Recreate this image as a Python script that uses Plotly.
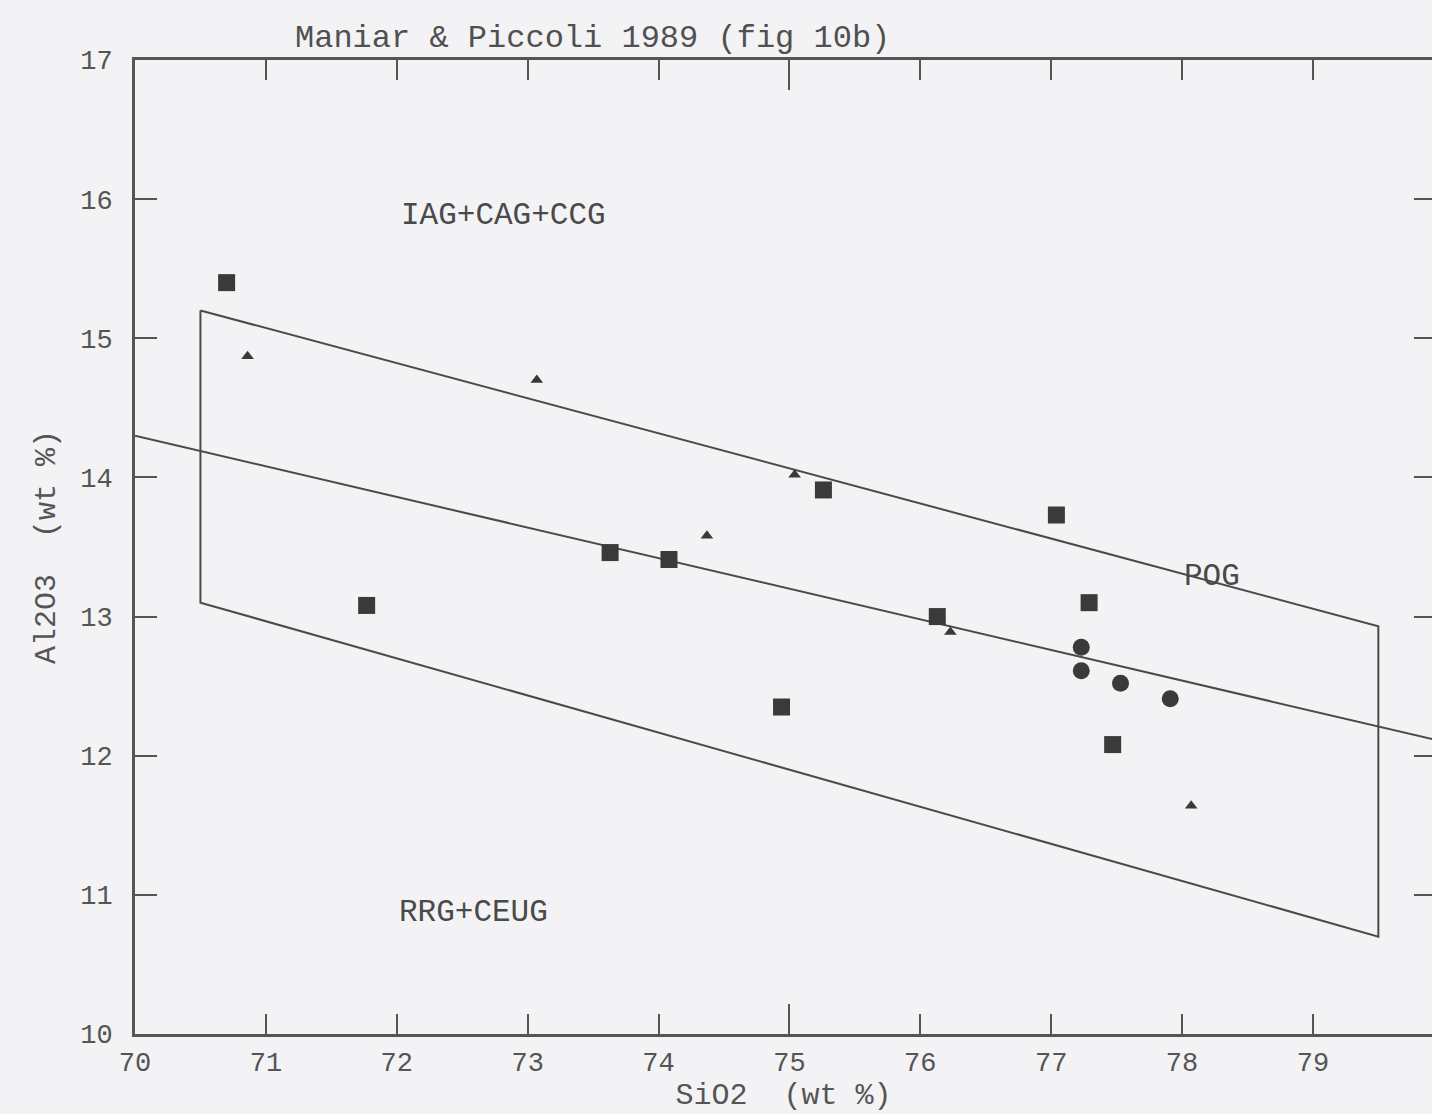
import plotly.graph_objects as go

# ---- data ----
sq_x = [70.70, 71.77, 73.63, 74.08, 75.26, 74.94, 76.13, 77.04, 77.29, 77.47]
sq_y = [15.40, 13.08, 13.46, 13.41, 13.91, 12.35, 13.00, 13.73, 13.10, 12.08]

tri_x = [70.86, 73.07, 74.37, 75.04, 76.23, 78.07]
tri_y = [14.87, 14.70, 13.58, 14.02, 12.89, 11.64]

cir_x = [77.23, 77.23, 77.53, 77.91]
cir_y = [12.78, 12.61, 12.52, 12.41]

# field boundaries
box_x = [70.5, 79.5, 79.5, 70.5, 70.5]
box_y = [15.2, 12.93, 10.7, 13.1, 15.2]
mid_x = [70.0, 80.0]
mid_y = [14.3, 12.1]

labels = ["IAG+CAG+CCG", "RRG+CEUG", "POG"]
label_x = [72.02, 72.0, 78.0]
label_y = [15.88, 10.87, 13.29]

x_ticks = [70, 71, 72, 73, 74, 75, 76, 77, 78, 79]
y_ticks = [10, 11, 12, 13, 14, 15, 16, 17]

FONT = "Liberation Mono"
INK = "#3a3a3a"
LINE = "#4a4a4a"
BG = "#f3f3f5"

fig = go.Figure()
fig.add_trace(go.Scatter(x=box_x, y=box_y, mode="lines",
                         line=dict(color=LINE, width=2), hoverinfo="skip"))
fig.add_trace(go.Scatter(x=mid_x, y=mid_y, mode="lines",
                         line=dict(color=LINE, width=2), hoverinfo="skip"))
fig.add_trace(go.Scatter(x=sq_x, y=sq_y, mode="markers",
                         marker=dict(symbol="square", size=17, color=INK)))
fig.add_trace(go.Scatter(x=tri_x, y=tri_y, mode="markers",
                         marker=dict(symbol="triangle-up", size=11, color=INK)))
fig.add_trace(go.Scatter(x=cir_x, y=cir_y, mode="markers",
                         marker=dict(symbol="circle", size=17, color=INK)))

# a second x axis only carrying the long 75 tick
fig.add_trace(go.Scatter(x=[75], y=[10], xaxis="x2", mode="markers",
                         marker=dict(opacity=0), hoverinfo="skip"))
# right-side inner ticks
fig.add_trace(go.Scatter(x=[75], y=[10], yaxis="y2", mode="markers",
                         marker=dict(opacity=0), hoverinfo="skip"))

for t, lx, ly in zip(labels, label_x, label_y):
    fig.add_annotation(x=lx, y=ly, text=t, showarrow=False, xanchor="left",
                       font=dict(family=FONT, size=31, color="#4a4a4a"))

fig.add_annotation(x=71.21, y=1.0, xref="x", yref="paper", yshift=22,
                   text="Maniar & Piccoli 1989 (fig 10b)", showarrow=False,
                   xanchor="left", yanchor="middle",
                   font=dict(family=FONT, size=32, color="#505050"))

x_range = [70, 79.91]
fig.update_layout(
    width=1432, height=1114,
    margin=dict(l=135, r=0, t=60, b=80),
    paper_bgcolor=BG, plot_bgcolor=BG,
    showlegend=False,
    font=dict(family=FONT, color="#505050"),
    xaxis=dict(range=x_range, tickvals=x_ticks, ticks="inside", ticklen=20,
               tickwidth=2, tickcolor="#555", showline=True, linewidth=3,
               linecolor="#555", mirror="ticks", showgrid=False, zeroline=False,
               ticklabelstandoff=2,
               tickfont=dict(family=FONT, size=27, color="#555"),
               title=dict(text="SiO2  (wt %)", standoff=0,
                          font=dict(family=FONT, size=30, color="#555"))),
    xaxis2=dict(range=x_range, overlaying="x", tickvals=[75], ticks="inside",
                ticklen=30, tickwidth=2, tickcolor="#555", showline=False,
                mirror="ticks", showticklabels=False, showgrid=False,
                zeroline=False, matches="x"),
    yaxis=dict(range=[10, 17], tickvals=y_ticks, ticks="inside", ticklen=22,
               tickwidth=2, tickcolor="#555", showline=True, linewidth=3,
               linecolor="#555", mirror=False, showgrid=False, zeroline=False,
               ticklabelstandoff=14,
               tickfont=dict(family=FONT, size=27, color="#555"),
               title=dict(text="Al2O3  (wt %)", standoff=16,
                          font=dict(family=FONT, size=30, color="#555"))),
    yaxis2=dict(range=[10, 17], overlaying="y", side="right",
                tickvals=[11, 12, 13, 14, 15, 16], ticks="inside", ticklen=18,
                tickwidth=2, tickcolor="#555", showline=False,
                showticklabels=False, showgrid=False, zeroline=False,
                matches="y"),
)

fig.write_html("out.html", config={"displayModeBar": False},
               post_script="document.body.style.margin='0';document.body.style.overflow='hidden';")
